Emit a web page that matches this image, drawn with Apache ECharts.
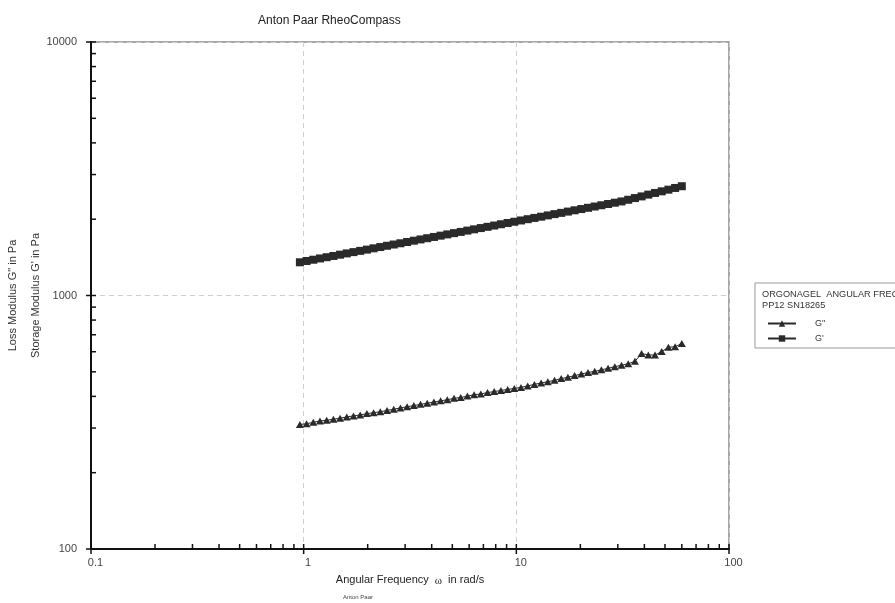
<!DOCTYPE html>
<html>
<head>
<meta charset="utf-8">
<style>
  html, body { margin: 0; padding: 0; background: #fff; }
  #chart { width: 895px; height: 603px; }
</style>
<script src="https://cdn.jsdelivr.net/npm/echarts@6/dist/echarts.min.js"></script>
</head>
<body>
<div id="chart"></div>
<script>
// Angular frequency (rad/s)
const freq = [0.960, 1.032, 1.110, 1.193, 1.283, 1.380, 1.483, 1.595, 1.715, 1.844,
  1.983, 2.132, 2.293, 2.466, 2.651, 2.851, 3.065, 3.296, 3.544, 3.810,
  4.097, 4.405, 4.737, 5.093, 5.476, 5.888, 6.331, 6.807, 7.320, 7.870,
  8.464, 9.100, 9.784, 10.52, 11.31, 12.16, 13.08, 14.06, 15.12, 16.26,
  17.48, 18.79, 20.21, 21.73, 23.36, 25.12, 27.01, 29.04, 31.23, 33.58,
  36.11, 38.82, 41.74, 44.88, 48.26, 51.89, 55.80, 60.00];
// Storage modulus G' (Pa)
const storageG = [1352, 1368, 1384, 1400, 1416, 1432, 1449, 1466, 1483, 1500,
  1517, 1535, 1553, 1571, 1589, 1607, 1626, 1645, 1664, 1683,
  1702, 1722, 1742, 1762, 1782, 1803, 1824, 1845, 1866, 1888,
  1910, 1932, 1954, 1977, 2000, 2023, 2046, 2070, 2094, 2118,
  2143, 2168, 2193, 2218, 2244, 2270, 2296, 2323, 2350, 2386,
  2423, 2460, 2500, 2538, 2576, 2615, 2656, 2698];
// Loss modulus G" (Pa)
const lossG = [310, 312, 316, 320, 322, 325, 328, 332, 335, 338,
  342, 345, 348, 352, 356, 360, 364, 368, 372, 376,
  380, 384, 388, 393, 396, 401, 406, 409, 414, 418,
  422, 426, 430, 434, 440, 446, 452, 457, 463, 470,
  476, 483, 490, 497, 502, 509, 516, 524, 531, 538,
  550, 590, 583, 582, 601, 625, 628, 647];
// Axis tick values
const xMajor = [0.1, 1, 10, 100];
const xMinor = [0.2, 0.3, 0.4, 0.5, 0.6, 0.7, 0.8, 0.9, 2, 3, 4, 5, 6, 7, 8, 9, 20, 30, 40, 50, 60, 70, 80, 90];
const yMajor = [100, 1000, 10000];
const yMinor = [200, 300, 400, 500, 600, 700, 800, 900, 2000, 3000, 4000, 5000, 6000, 7000, 8000, 9000];

const seriesNames = ['G"', "G'"];
const legendHeader = ['ORGONAGEL  ANGULAR FREQUENCY SWEEP', 'PP12 SN18265'];

const FONT = 'Liberation Sans, Arial, sans-serif';
const INK = '#2a2a2a';

const chart = echarts.init(document.getElementById('chart'), null, { renderer: 'canvas' });

function tickData() {
  const d = [];
  xMajor.forEach(v => d.push([v, 100, 0, 1]));
  xMinor.forEach(v => d.push([v, 100, 0, 0]));
  yMajor.forEach(v => d.push([0.1, v, 1, 1]));
  yMinor.forEach(v => d.push([0.1, v, 1, 0]));
  return d;
}

const option = {
  animation: false,
  backgroundColor: '#ffffff',
  title: {
    text: 'Anton Paar RheoCompass',
    left: 258, top: 15, padding: 0,
    textStyle: { fontFamily: FONT, fontSize: 12, fontWeight: 'normal', color: '#222' }
  },
  grid: {
    left: 91, right: 166, top: 42, bottom: 54,
    containLabel: false, outerBoundsMode: 'none',
    show: true, borderColor: '#8a8a8a', borderWidth: 1.5, backgroundColor: 'transparent'
  },
  legend: {
    data: seriesNames,
    orient: 'vertical',
    left: 762, top: 314,
    itemWidth: 28, itemHeight: 8, itemGap: 6,
    textStyle: { fontFamily: FONT, fontSize: 9, color: '#333', padding: [0, 0, 0, 14] }
  },
  graphic: [
    { type: 'rect', shape: { x: 755, y: 283, width: 160, height: 65 },
      style: { fill: '#fff', stroke: '#9a9a9a', lineWidth: 1 }, z: -1 },
    { type: 'text', x: 762, y: 290,
      style: { text: legendHeader[0], font: '9.2px ' + FONT, fill: '#333' } },
    { type: 'text', x: 762, y: 301,
      style: { text: legendHeader[1], font: '9.2px ' + FONT, fill: '#333' } },
    { type: 'text', x: 343, y: 594,
      style: { text: 'Anton Paar', font: '6px ' + FONT, fill: '#444' } }
  ],
  xAxis: {
    type: 'log', logBase: 10, min: 0.1, max: 100,
    name: 'Angular Frequency {w|ω} in rad/s',
    nameLocation: 'middle', nameGap: 24,
    nameTextStyle: {
      fontFamily: FONT, fontSize: 11, color: '#222',
      rich: { w: { fontFamily: 'Liberation Serif, serif', fontSize: 11, color: '#222', padding: [3, 3, 0, 3] } }
    },
    axisLine: { onZero: false, lineStyle: { color: '#111', width: 2 } },
    axisTick: { show: false },
    axisLabel: { fontFamily: FONT, fontSize: 11, color: '#444', margin: 8, padding: [0, 0, 0, 9],
      formatter: v => String(v) },
    splitLine: { show: true, lineStyle: { color: '#cfcfcf', type: [5, 4], width: 1 } }
  },
  yAxis: {
    type: 'log', logBase: 10, min: 100, max: 10000,
    name: 'Loss Modulus G" in Pa\nStorage Modulus G\' in Pa',
    nameLocation: 'middle', nameGap: 44, nameRotate: 90, nameMoveOverlap: false,
    nameTextStyle: { fontFamily: FONT, fontSize: 11, color: '#333', lineHeight: 23 },
    axisLine: { onZero: false, lineStyle: { color: '#111', width: 2 } },
    axisTick: { show: false },
    axisLabel: { fontFamily: FONT, fontSize: 11, color: '#444', margin: 14,
      formatter: v => String(v) },
    splitLine: { show: true, lineStyle: { color: '#cfcfcf', type: [5, 4], width: 1 } }
  },
  series: [
    {
      name: seriesNames[0], type: 'line',
      data: freq.map((f, i) => [f, lossG[i]]),
      symbol: 'triangle', symbolSize: [8, 7],
      itemStyle: { color: INK }, lineStyle: { color: INK, width: 1 },
      z: 3
    },
    {
      name: seriesNames[1], type: 'line',
      data: freq.map((f, i) => [f, storageG[i]]),
      symbol: 'rect', symbolSize: 8,
      itemStyle: { color: INK }, lineStyle: { color: INK, width: 1 },
      z: 3
    },
    {
      name: 'ticks', type: 'custom', silent: true, z: 5,
      data: tickData(),
      renderItem: function (params, api) {
        const p = api.coord([api.value(0), api.value(1)]);
        const isY = api.value(2) === 1;
        const major = api.value(3) === 1;
        let shape;
        if (isY) {
          shape = major ? { x1: p[0] - 5, y1: p[1], x2: p[0] + 5, y2: p[1] }
                        : { x1: p[0], y1: p[1], x2: p[0] + 5, y2: p[1] };
        } else {
          shape = major ? { x1: p[0], y1: p[1] + 5, x2: p[0], y2: p[1] - 5 }
                        : { x1: p[0], y1: p[1], x2: p[0], y2: p[1] - 5 };
        }
        return { type: 'line', shape: shape, style: { stroke: '#111', lineWidth: 1.5 } };
      }
    }
  ]
};
chart.setOption(option);
</script>
</body>
</html>
